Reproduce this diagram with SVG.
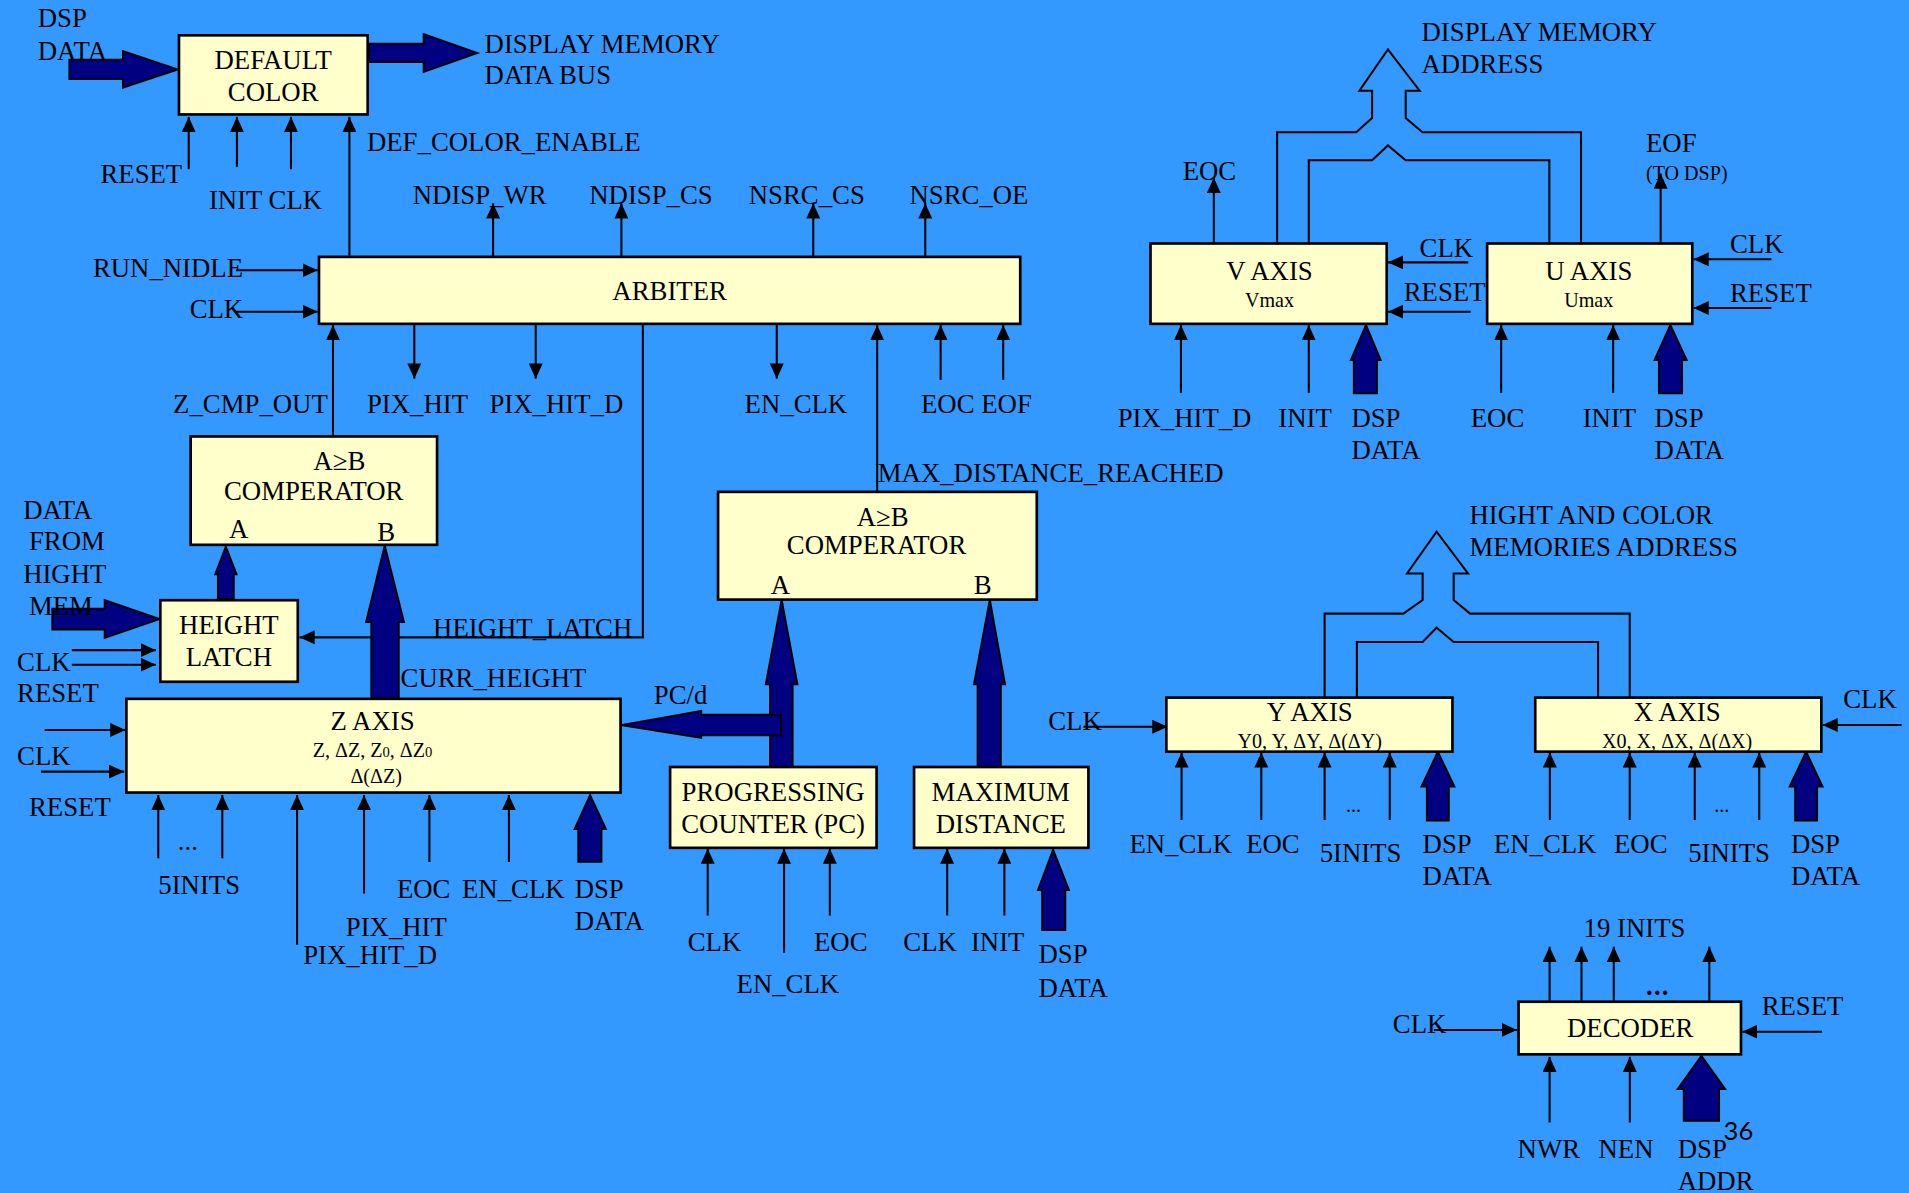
<svg xmlns="http://www.w3.org/2000/svg" width="1909" height="1193" viewBox="0 0 1909 1193">
<defs>
<style>
.bx{fill:#FFFFCC;stroke:#000;stroke-width:2.2}
.ln{fill:none;stroke:#000;stroke-width:1.7}
.ar{fill:none;stroke:#000;stroke-width:1.7;marker-end:url(#ah)}
.ba{fill:#000080;stroke:#000;stroke-width:1.6;stroke-linejoin:miter}
text{font-family:"Liberation Serif","Times New Roman",serif;font-size:22px;fill:#000}
.c{text-anchor:middle}
.s{font-size:16.5px}
.pg{font-family:Lato,"Open Sans",sans-serif;font-size:21px}
</style>
<marker id="ah" markerUnits="userSpaceOnUse" markerWidth="12.5" markerHeight="11.5" refX="12.5" refY="5.75" orient="auto">
<path d="M0,0 L12.5,5.75 L0,11.5 Z" fill="#000"/>
</marker>
</defs>
<rect x="0" y="0" width="1909" height="1193" fill="#3399FF"/>
<g transform="scale(1.21747)">

<g id="connectors">
<path class="ar" d="M155,139V96"/>
<path class="ar" d="M194.6,137V96"/>
<path class="ar" d="M239,139V96"/>
<path class="ar" d="M287,210V96"/>
<path class="ar" d="M405,211V167"/>
<path class="ar" d="M510.4,211V167"/>
<path class="ar" d="M668,211V167"/>
<path class="ar" d="M760,211V167"/>
<path class="ar" d="M194,222H261"/>
<path class="ar" d="M193.6,256H261"/>
<path class="ar" d="M273.5,359V267"/>
<path class="ar" d="M340.3,267V311"/>
<path class="ar" d="M440,267V311"/>
<path class="ar" d="M638,267V311"/>
<path class="ar" d="M720.5,404V267"/>
<path class="ar" d="M772.6,312V267"/>
<path class="ar" d="M824,312V267"/>
<path class="ar" d="M528,267V523.5H246"/>
<path class="ar" d="M59,534H128"/>
<path class="ar" d="M59,546H128"/>
<path class="ar" d="M36.7,599.6H103"/>
<path class="ar" d="M33.7,633.8H102"/>
<path class="ar" d="M130,705V653"/>
<path class="ar" d="M182.6,705V653"/>
<path class="ar" d="M244,776V653"/>
<path class="ar" d="M299,734V653"/>
<path class="ar" d="M352.7,708V653"/>
<path class="ar" d="M418,708V653"/>
<path class="ar" d="M581.3,752V697"/>
<path class="ar" d="M644,782.5V697"/>
<path class="ar" d="M681.6,752V697"/>
<path class="ar" d="M778,752V697"/>
<path class="ar" d="M825,752V697"/>
<path class="ar" d="M997,200V146"/>
<path class="ar" d="M1364,200V142.5"/>
<path class="ar" d="M1206,215.5H1140"/>
<path class="ar" d="M1208,256H1140"/>
<path class="ar" d="M1455,213H1391"/>
<path class="ar" d="M1455,253H1391"/>
<path class="ar" d="M970,322.6V267"/>
<path class="ar" d="M1075,322.6V267"/>
<path class="ar" d="M1233,322.6V267"/>
<path class="ar" d="M1325,322.6V267"/>
<path class="ln" d="M1049,200V108.7H1114L1127,97V74.5H1116.6L1140,40.6L1166,74.5H1154.6V97L1168.4,108.7H1298.6V200"/>
<path class="ln" d="M1075,200V131.6H1127L1140,119.5L1154.6,131.6H1272.6V200"/>
<path class="ar" d="M890,597H959"/>
<path class="ar" d="M1562,595.5H1497"/>
<path class="ar" d="M970.5,673.5V618"/>
<path class="ar" d="M1036,673.5V618"/>
<path class="ar" d="M1088,673.5V618"/>
<path class="ar" d="M1141.5,673.5V618"/>
<path class="ar" d="M1273,673.5V618"/>
<path class="ar" d="M1338.6,673.5V618"/>
<path class="ar" d="M1392,673.5V618"/>
<path class="ar" d="M1445,673.5V618"/>
<path class="ln" d="M1088,573V504H1152.7L1168.5,492.8V471H1155.7L1180,436.7L1205.8,471H1194V492.8L1207.5,504H1338.6V573"/>
<path class="ln" d="M1114.5,573V527.3H1168.5L1180,515.6L1194,527.3H1312.6V573"/>
<path class="ar" d="M1272.8,822V777.6"/>
<path class="ar" d="M1299,822V777.6"/>
<path class="ar" d="M1325.5,822V777.6"/>
<path class="ar" d="M1404,822V777.6"/>
<path class="ar" d="M1177.7,846H1246"/>
<path class="ar" d="M1496.6,847.4H1431"/>
<path class="ar" d="M1272.8,922V868"/>
<path class="ar" d="M1338.7,922V868"/>

<polygon class="ba" points="57,49 101,49 101,42 146,57 101,72 101,65 57,65"/>
<polygon class="ba" points="303,36 348,36 348,28 392,43.5 348,59 348,51 303,51"/>
<polygon class="ba" points="179,492 179,471.7 176.8,471.7 185.5,449 194.3,471.7 192,471.7 192,492"/>
<polygon class="ba" points="305,573.5 305,511 300.7,511 316,448 331.8,511 327.5,511 327.5,573.5"/>
<polygon class="ba" points="43,500 86,500 86,493 131,508.5 86,524 86,517 43,517"/>
<polygon class="ba" points="475,707.8 475,681 472,681 484.7,653 497.6,681 494,681 494,707.8"/>
<polygon class="ba" points="632.5,630 632.5,562 629,562 642,492.6 655,562 651,562 651,630"/>
<polygon class="ba" points="641.6,587 576,587 576,584 510,595.6 576,606 576,604 641.6,604"/>
<polygon class="ba" points="803,630 803,562 800,562 813,492.6 825.5,562 822,562 822,630"/>
<polygon class="ba" points="856,764 856,731 852.6,731 865,698 878,731 875,731 875,764"/>
<polygon class="ba" points="1112,323 1112,295.7 1109.6,295.7 1122,267 1134,295.7 1131,295.7 1131,323"/>
<polygon class="ba" points="1362.6,323 1362.6,295.7 1359,295.7 1372,267 1385.4,295.7 1381.6,295.7 1381.6,323"/>
<polygon class="ba" points="1172,674 1172,646 1167.6,646 1181,617.5 1194.6,646 1190,646 1190,674"/>
<polygon class="ba" points="1474.5,674 1474.5,646 1470,646 1483.5,617.5 1497,646 1492.5,646 1492.5,674"/>
<polygon class="ba" points="1383,920.6 1383,894.6 1378,894.6 1397.5,867.4 1417,894.6 1412,894.6 1412,920.6"/>
</g>

<g id="default-color">
<rect class="bx" x="147" y="29" width="155" height="65"/>
<text class="c" x="224.4" y="56.7">DEFAULT</text>
<text class="c" x="224.4" y="82.7">COLOR</text>
</g>
<g id="arbiter">
<rect class="bx" x="262" y="211" width="576" height="55"/>
<text class="c" x="550" y="246.4">ARBITER</text>
</g>
<g id="comparator-1">
<rect class="bx" x="156.6" y="358.5" width="202.4" height="89"/>
<text class="c" x="278.7" y="385.8">A≥B</text>
<text class="c" x="257.7" y="411">COMPERATOR</text>
<text x="188" y="442">A</text>
<text x="309.8" y="444.5">B</text>
</g>
<g id="height-latch">
<rect class="bx" x="131.7" y="493" width="112.9" height="67"/>
<text class="c" x="188" y="521">HEIGHT</text>
<text class="c" x="188" y="547">LATCH</text>
</g>
<g id="z-axis">
<rect class="bx" x="103.8" y="574" width="405.9" height="77"/>
<text class="c" x="306" y="599.6">Z AXIS</text>
<text class="c s" x="306" y="621.8">Z, ΔZ, Z<tspan font-size="12">0</tspan>, ΔZ<tspan font-size="12">0</tspan></text>
<text class="c s" x="309" y="643">Δ(ΔZ)</text>
</g>
<g id="comparator-2">
<rect class="bx" x="589.8" y="404" width="261.8" height="88.5"/>
<text class="c" x="725" y="431.8">A≥B</text>
<text class="c" x="720" y="455">COMPERATOR</text>
<text x="633" y="487.7">A</text>
<text x="799.8" y="487.7">B</text>
</g>
<g id="progressing-counter">
<rect class="bx" x="550.4" y="630" width="169.6" height="66.4"/>
<text class="c" x="635" y="658">PROGRESSING</text>
<text class="c" x="635" y="684">COUNTER (PC)</text>
</g>
<g id="maximum-distance">
<rect class="bx" x="750.8" y="630" width="143.2" height="66.4"/>
<text class="c" x="822" y="658">MAXIMUM</text>
<text class="c" x="822" y="684">DISTANCE</text>
</g>
<g id="v-axis">
<rect class="bx" x="945" y="200" width="194" height="66"/>
<text class="c" x="1042.7" y="230">V AXIS</text>
<text class="c s" x="1042.7" y="252.4">Vmax</text>
</g>
<g id="u-axis">
<rect class="bx" x="1221.5" y="200" width="168.5" height="66"/>
<text class="c" x="1305" y="230">U AXIS</text>
<text class="c s" x="1305" y="252.4">Umax</text>
</g>
<g id="y-axis">
<rect class="bx" x="958" y="573" width="235" height="44.4"/>
<text class="c" x="1075.8" y="592">Y AXIS</text>
<text class="c s" x="1075.8" y="614.6">Y0, Y, ΔY, Δ(ΔY)</text>
</g>
<g id="x-axis">
<rect class="bx" x="1261" y="573" width="235" height="44.4"/>
<text class="c" x="1377.6" y="592">X AXIS</text>
<text class="c s" x="1377.6" y="614.6">X0, X, ΔX, Δ(ΔX)</text>
</g>
<g id="decoder">
<rect class="bx" x="1247.3" y="822.8" width="182.7" height="43.2"/>
<text class="c" x="1339" y="851.8">DECODER</text>
</g>

<g id="labels">
<text x="31" y="22.5">DSP</text>
<text x="31" y="49">DATA</text>
<text x="398" y="43.3">DISPLAY MEMORY</text>
<text x="398" y="69">DATA BUS</text>
<text x="82.5" y="150">RESET</text>
<text x="171.6" y="172">INIT CLK</text>
<text x="301.4" y="123.8">DEF_COLOR_ENABLE</text>
<text x="339" y="167.6">NDISP_WR</text>
<text x="484" y="167.6">NDISP_CS</text>
<text x="615" y="167.6">NSRC_CS</text>
<text x="747" y="167.6">NSRC_OE</text>
<text x="76.3" y="227.3">RUN_NIDLE</text>
<text x="155.8" y="261.4">CLK</text>
<text x="142.2" y="339.5">Z_CMP_OUT</text>
<text x="301.4" y="339.5">PIX_HIT</text>
<text x="402" y="339.5">PIX_HIT_D</text>
<text x="611.6" y="339.5">EN_CLK</text>
<text x="756.5" y="339.5">EOC EOF</text>
<text x="721" y="396">MAX_DISTANCE_REACHED</text>
<text x="19" y="426">DATA</text>
<text x="23.8" y="452">FROM</text>
<text x="19" y="478.7">HIGHT</text>
<text x="23.8" y="504.8">MEM</text>
<text x="14" y="551">CLK</text>
<text x="14" y="577">RESET</text>
<text x="355.7" y="523">HEIGHT_LATCH</text>
<text x="329" y="564">CURR_HEIGHT</text>
<text x="537" y="578">PC/d</text>
<text x="14" y="628">CLK</text>
<text x="23.8" y="670">RESET</text>
<text x="146" y="698">...</text>
<text x="130" y="734">5INITS</text>
<text x="326" y="737.6">EOC</text>
<text x="379.5" y="737.6">EN_CLK</text>
<text x="472" y="737.6">DSP</text>
<text x="472" y="763.5">DATA</text>
<text x="284" y="768.5">PIX_HIT</text>
<text x="249" y="791.8">PIX_HIT_D</text>
<text x="564.9" y="781">CLK</text>
<text x="605" y="815.6">EN_CLK</text>
<text x="668.6" y="781">EOC</text>
<text x="742" y="781">CLK</text>
<text x="797.5" y="781">INIT</text>
<text x="853" y="791">DSP</text>
<text x="853" y="818.7">DATA</text>
<text x="1167.6" y="34">DISPLAY MEMORY</text>
<text x="1167.6" y="60">ADDRESS</text>
<text x="971.4" y="148">EOC</text>
<text x="1352" y="124.6">EOF</text>
<text class="s" x="1352" y="148">(TO DSP)</text>
<text x="1166" y="211">CLK</text>
<text x="1153" y="247">RESET</text>
<text x="1421" y="208">CLK</text>
<text x="1421" y="247.8">RESET</text>
<text x="918" y="351">PIX_HIT_D</text>
<text x="1050" y="351">INIT</text>
<text x="1110" y="351">DSP</text>
<text x="1110" y="377">DATA</text>
<text x="1208" y="351">EOC</text>
<text x="1300" y="351">INIT</text>
<text x="1359" y="351">DSP</text>
<text x="1359" y="377">DATA</text>
<text x="1207" y="430.6">HIGHT AND COLOR</text>
<text x="1207" y="456.7">MEMORIES ADDRESS</text>
<text x="861" y="600">CLK</text>
<text x="1514" y="581.6">CLK</text>
<text x="927.7" y="700.8">EN_CLK</text>
<text x="1023.6" y="700.8">EOC</text>
<text x="1084" y="707.8">5INITS</text>
<text class="s" x="1105.6" y="666.7">...</text>
<text x="1168.5" y="700.8">DSP</text>
<text x="1168.5" y="727">DATA</text>
<text x="1227" y="700.8">EN_CLK</text>
<text x="1325.7" y="700.8">EOC</text>
<text x="1386.6" y="707.8">5INITS</text>
<text class="s" x="1408" y="666.7">...</text>
<text x="1471" y="700.8">DSP</text>
<text x="1471" y="727">DATA</text>
<text x="1300.7" y="769.4">19 INITS</text>
<text x="1352" y="817" font-size="26" font-weight="bold" letter-spacing="1">...</text>
<text x="1144" y="848.6">CLK</text>
<text x="1447" y="833.7">RESET</text>
<text x="1246.5" y="951">NWR</text>
<text x="1313" y="951">NEN</text>
<text x="1378" y="951">DSP</text>
<text x="1378" y="977.6">ADDR</text>
<text class="pg" x="1415.7" y="936.4">36</text>
</g>
</g>
</svg>
